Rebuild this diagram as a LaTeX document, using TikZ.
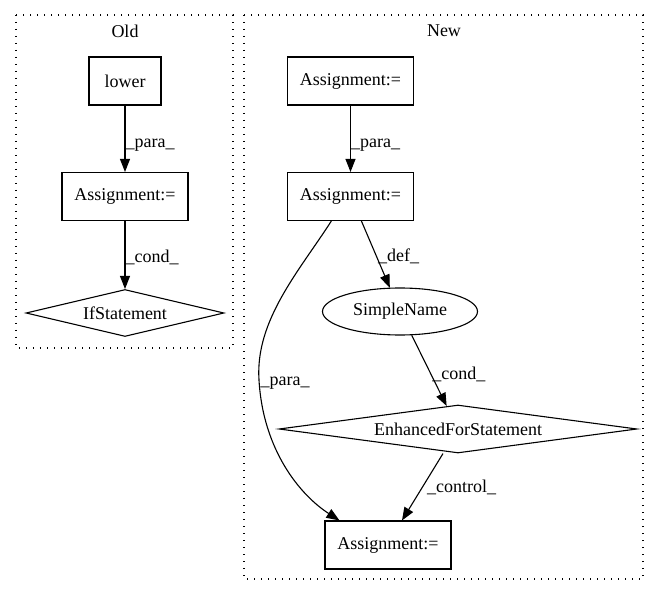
\documentclass[tikz,border=0pt]{standalone}
\usepackage{fontspec}
\setmainfont{Liberation Serif}
\usetikzlibrary{shapes.geometric,arrows.meta}
\begin{document}
\begin{tikzpicture}[x=1pt,y=-1pt,
  every node/.style={font=\fontsize{18}{21}\selectfont},
  cluster/.style={draw,line width=1.2pt,dash pattern=on 1.4pt off 5.6pt},
  box/.style={draw,line width=1.1pt,rectangle,inner sep=0pt,minimum height=48pt},
  dia/.style={draw,line width=1.1pt,diamond,shape aspect=7,inner sep=0pt,minimum height=48pt},
  ell/.style={draw,line width=1.1pt,ellipse,inner sep=0pt,minimum width=155pt,minimum height=47pt},
  edge/.style={line width=1.1pt,-{Triangle[length=13pt,width=10pt]}},
  lab/.style={anchor=west,inner sep=0pt}]
\useasboundingbox (0,0) rectangle (659,596);
% clusters
\draw[cluster] (16,15) rectangle (233,348);
\node (oldlab) at (125,31) {Old};
\draw[cluster] (244,15) rectangle (643,579);
\node (newlab) at (444,31) {New};
% Old nodes
\node[box,minimum width=72pt] (lower) at (125,81) {lower};
\node[box,minimum width=126pt] (a1) at (125,196.5) {Assignment:=};
\node[dia,minimum width=198pt,minimum height=47pt] (if) at (125,313) {IfStatement};
% New nodes
\node[box,minimum width=126pt] (a0) at (350.5,81) {Assignment:=};
\node[box,minimum width=126pt] (n2) at (350.5,196.5) {Assignment:=};
\node[ell] (sn) at (400,311.5) {SimpleName};
\node[dia,minimum width=358pt] (efs) at (458,429) {EnhancedForStatement};
\node[box,minimum width=126pt] (a3) at (388,545) {Assignment:=};
% Old edges
\draw[edge] (lower) -- node[lab,pos=0.59] {\_para\_} (a1);
\draw[edge] (a1) -- node[lab,pos=0.53] {\_cond\_} (if);
% New edges
\draw[edge] (a0) -- node[lab,pos=0.59] {\_para\_} (n2);
\draw[edge] (n2.294) -- node[lab,pos=0.53,xshift=1pt] {\_def\_} (sn);
\draw[edge] (sn) -- node[lab,pos=0.55,xshift=1pt] {\_cond\_} (efs);
\draw[edge] ([xshift=-15pt]efs.south) -- node[lab,pos=0.5,xshift=4pt] {\_control\_} ([xshift=14pt]a3.north);
\draw[edge] (n2.232) .. controls (300,270) and (255,320) .. (259,380)
  node[lab,xshift=1pt,yshift=-3pt] {\_para\_}
  .. controls (263,450) and (300,495) .. ([xshift=15pt]a3.north west);
\end{tikzpicture}
\end{document}
